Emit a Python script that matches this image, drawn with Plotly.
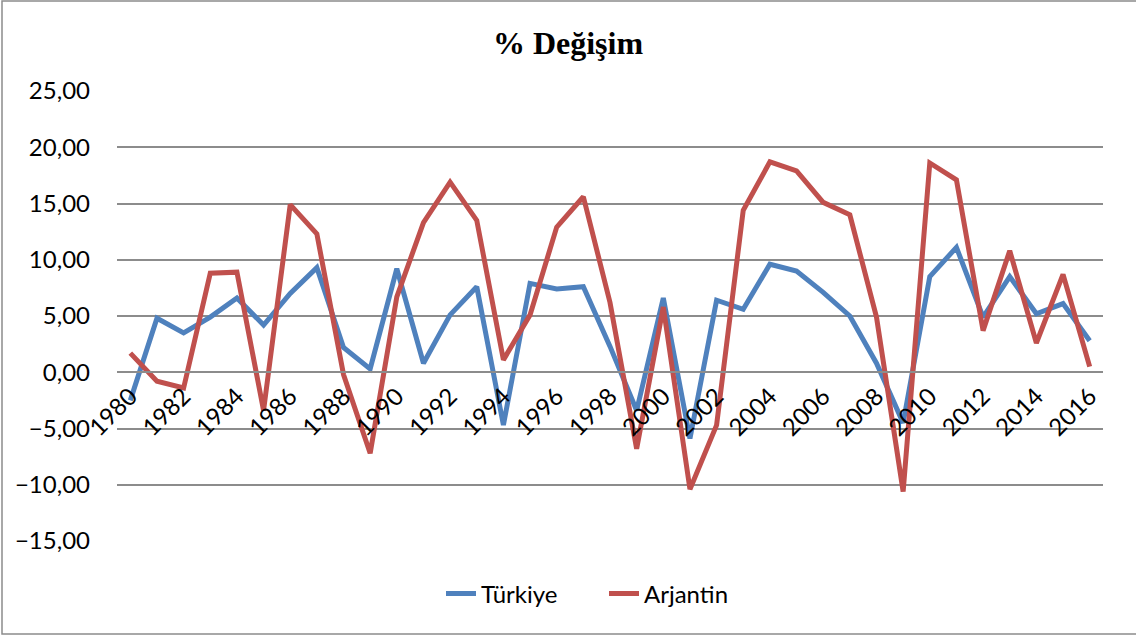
import plotly.graph_objects as go

years = list(range(1980, 2017))
turkiye = [-2.5, 4.8, 3.5, 4.9, 6.6, 4.2, 7.0, 9.3, 2.2, 0.3, 9.2, 0.8, 5.1, 7.6, -4.7,
           7.9, 7.4, 7.6, 2.3, -3.4, 6.6, -5.9, 6.4, 5.6, 9.6, 9.0, 7.1, 5.0, 0.8, -4.5,
           8.5, 11.1, 4.9, 8.5, 5.2, 6.1, 2.8]
arjantin = [1.7, -0.8, -1.4, 8.8, 8.9, -3.4, 14.9, 12.3, -0.2, -7.2, 6.7, 13.3, 16.9, 13.5, 1.1,
            5.1, 12.9, 15.6, 6.2, -6.8, 5.8, -10.4, -4.7, 14.4, 18.7, 17.9, 15.1, 14.0, 4.9, -10.6,
            18.6, 17.1, 3.7, 10.8, 2.6, 8.7, 0.5]
series_names = ["Türkiye", "Arjantin"]
colors = ["#4F81BD", "#C0504D"]

W, H = 1136, 636
L, R, T, B = 117, 1103, 91, 541
pw, ph = R - L, B - T

fig = go.Figure()
for name, vals, c in zip(series_names, [turkiye, arjantin], colors):
    fig.add_trace(go.Scatter(x=years, y=vals, name=name, mode="lines",
                             line=dict(color=c, width=5)))

fig.update_layout(
    width=W, height=H,
    margin=dict(l=L, r=W - R, t=T, b=H - B, pad=0, autoexpand=False),
    paper_bgcolor="white", plot_bgcolor="white",
    separators=",.",
    font=dict(family="Lato, Carlito, sans-serif", size=24, color="black"),
    title=dict(text="<b>% Değişim</b>", x=0.5, xanchor="center", y=1 - 43 / H, yanchor="middle",
               font=dict(family="Liberation Serif, Times New Roman, serif", size=32, color="black")),
    showlegend=True,
    legend=dict(orientation="h", x=(604 - L) / pw, xanchor="center", y=(B - 594) / ph, yanchor="middle",
                font=dict(size=24), bgcolor="rgba(0,0,0,0)", entrywidth=118),
    xaxis=dict(range=[1979.5, 2016.5], tickmode="linear", tick0=1980, dtick=2,
               tickangle=-45, showgrid=False, zeroline=False, showline=True,
               linecolor="#8c8c8c", linewidth=1.5, ticks="", automargin=False,
               anchor="free", position=(B - 372) / ph,
               tickfont=dict(size=24)),
    yaxis=dict(range=[-15, 25], tickmode="linear", tick0=-15, dtick=5, tickformat=".2f",
               showgrid=True, gridcolor="#8c8c8c", gridwidth=1.5, zeroline=False,
               showline=False, ticks="", ticklabelstandoff=26, automargin=False,
               tickfont=dict(size=24)),
    shapes=[dict(type="rect", xref="paper", yref="paper",
                 x0=(2 - L) / pw, x1=(1140 - L) / pw,
                 y0=(B - 634) / ph, y1=(B - 1) / ph,
                 line=dict(color="#8c8c8c", width=1.5), fillcolor="rgba(0,0,0,0)", layer="below")],
)

fig.write_html("out.html", config={"displayModeBar": False},
               post_script="document.body.style.margin='0';")
